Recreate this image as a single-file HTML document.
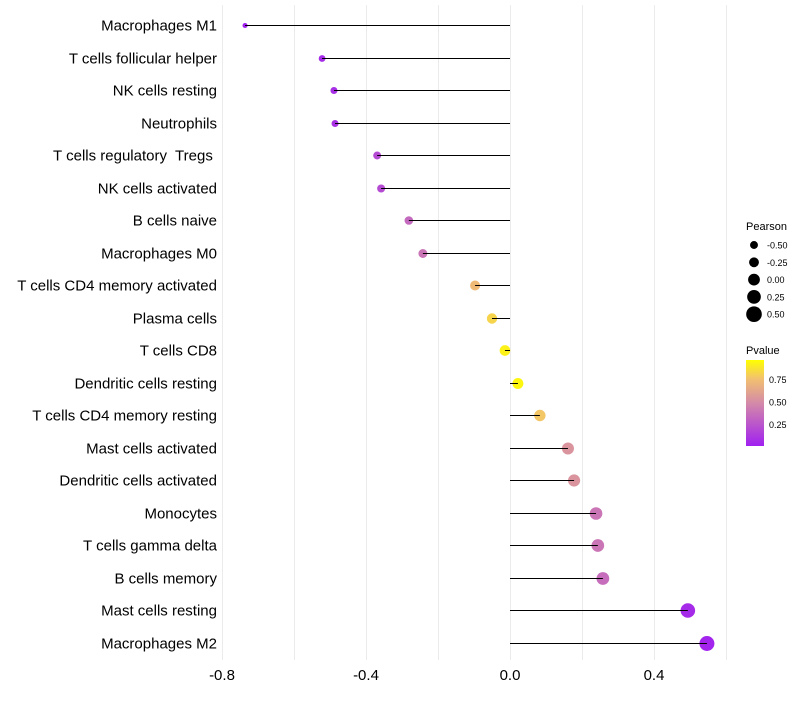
<!DOCTYPE html>
<html><head><meta charset="utf-8"><style>
body{margin:0;background:#fff;font-family:"Liberation Sans",sans-serif}
svg text{font-family:"Liberation Sans",sans-serif;white-space:pre}
</style></head><body>
<svg id="chart" width="800" height="700">
<defs><linearGradient id="pg" x1="0" y1="1" x2="0" y2="0">
<stop offset="0" stop-color="#a020f0"/><stop offset="0.5" stop-color="#d48aa8"/><stop offset="0.78" stop-color="#f2c070"/><stop offset="1" stop-color="#ffff00"/>
</linearGradient></defs>
<g id="grid"></g><g id="marks"></g><g id="stems"></g><g id="labels"></g><g id="legend"></g>
</svg>
<script>
const categories=["Macrophages M1","T cells follicular helper","NK cells resting","Neutrophils","T cells regulatory  Tregs ","NK cells activated","B cells naive","Macrophages M0","T cells CD4 memory activated","Plasma cells","T cells CD8","Dendritic cells resting","T cells CD4 memory resting","Mast cells activated","Dendritic cells activated","Monocytes","T cells gamma delta","B cells memory","Mast cells resting","Macrophages M2"];
const pearson=[-0.736,-0.522,-0.489,-0.486,-0.369,-0.358,-0.281,-0.242,-0.097,-0.05,-0.014,0.022,0.083,0.161,0.178,0.239,0.244,0.258,0.494,0.547];
const pvalue=[0.01,0.05,0.07,0.08,0.2,0.2,0.35,0.4,0.75,0.85,0.95,0.97,0.8,0.55,0.55,0.4,0.4,0.37,0.05,0.02];
const xTicks=[-0.8,-0.4,0.0,0.4];
const gridVals=[-0.8,-0.6,-0.4,-0.2,0,0.2,0.4,0.6];
const sizeLegend=[-0.5,-0.25,0,0.25,0.5];
const colorTicks=[0.75,0.5,0.25];
const NS="http://www.w3.org/2000/svg";
const X=v=>510+v*360;
const Y=i=>Math.round(25+i*32.5)+0.5;
const R=v=>2.5+(v+0.75)/1.3*5;
function lerp(a,b,t){return a.map((x,i)=>Math.round(x+(b[i]-x)*t));}
function C(p){const st=[[0,[160,32,240]],[0.5,[212,138,168]],[0.78,[242,192,112]],[1,[255,255,0]]];
for(let k=1;k<st.length;k++){if(p<=st[k][0]){const t=(p-st[k-1][0])/(st[k][0]-st[k-1][0]);const c=lerp(st[k-1][1],st[k][1],t);return `rgb(${c})`;}}return "rgb(255,255,0)";}
function mk(tag,attrs,parent,text){const e=document.createElementNS(NS,tag);for(const k in attrs)e.setAttribute(k,attrs[k]);if(text!==undefined)e.textContent=text;document.getElementById(parent).appendChild(e);return e;}
gridVals.forEach(v=>{const l=mk("line",{x1:X(v)+0.5,x2:X(v)+0.5,y1:5,y2:660,stroke:"#ebebeb","stroke-width":1},"grid");

});
xTicks.forEach(v=>{const t=mk("text",{x:X(v),y:680,"text-anchor":"middle","font-size":15,fill:"#000"},"labels",v.toFixed(1));

});
categories.forEach((c,i)=>{const t=mk("text",{x:217,y:Y(i)+5,"text-anchor":"end","font-size":15,fill:"#000"},"labels",c);


const d=mk("circle",{cx:X(pearson[i]),cy:Y(i),r:R(pearson[i]),fill:C(pvalue[i])},"marks");


const l=mk("line",{x1:X(0),x2:X(pearson[i]),y1:Y(i),y2:Y(i),stroke:"#000","stroke-width":1},"stems");

});
let t=mk("text",{x:746,y:230,"font-size":11},"legend","Pearson");


sizeLegend.forEach((v,i)=>{const y=245+i*17.3;
const c=mk("circle",{cx:754,cy:y,r:R(v)+0.5,fill:"#000"},"legend");


const tx=mk("text",{x:767,y:y+3.5,"font-size":9},"legend",v.toFixed(2));

});
t=mk("text",{x:746,y:354,"font-size":11},"legend","Pvalue");


const bar=mk("rect",{x:746,y:360,width:18,height:86,fill:"url(#pg)"},"legend");


colorTicks.forEach(v=>{const y=446-(v-0.01)/0.25*22.5;
const tx=mk("text",{x:769,y:y+3.5,"font-size":9},"legend",v.toFixed(2));

});
</script>
</body></html>
